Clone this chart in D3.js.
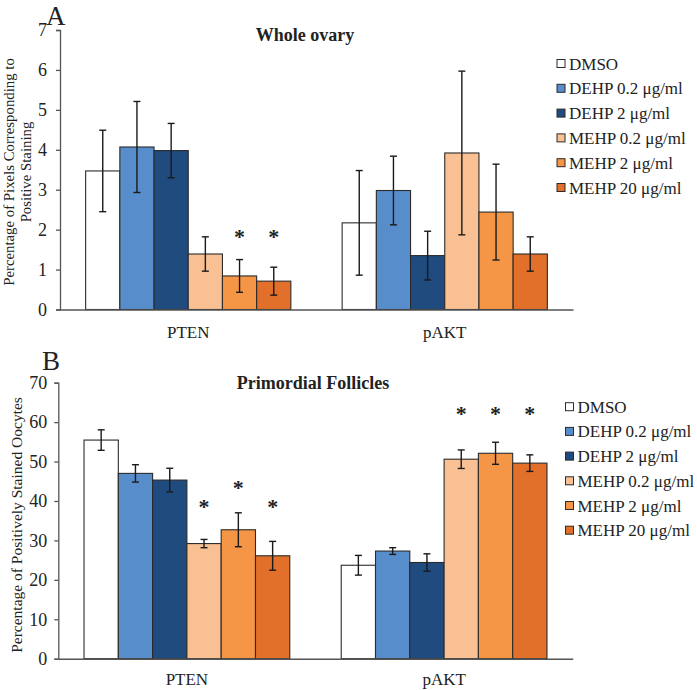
<!DOCTYPE html>
<html>
<head>
<meta charset="utf-8">
<script src="https://cdn.jsdelivr.net/npm/d3@7"></script>
<style>
  body { margin: 0; background: #fff; }
  svg text { font-family: "Liberation Serif", "Times New Roman", serif; fill: #222; }
</style>
</head>
<body>
<div id="wrapper"></div>
<script>
// categories / series
const groups = ["PTEN", "pAKT"]
const series = ["DMSO", "DEHP 0.2 μg/ml", "DEHP 2 μg/ml", "MEHP 0.2 μg/ml", "MEHP 2 μg/ml", "MEHP 20 μg/ml"]
const colors = ["#ffffff", "#588dcc", "#1f4b7f", "#f9c193", "#f59647", "#e2702a"]

// panel A: whole ovary (mean, error)
const aMeanPTEN = [3.47, 4.07, 3.98, 1.39, 0.84, 0.71]
const aErrPTEN  = [1.02, 1.14, 0.68, 0.43, 0.41, 0.35]
const aMeanPAKT = [2.17, 2.98, 1.35, 3.92, 2.44, 1.39]
const aErrPAKT  = [1.31, 0.86, 0.61, 2.05, 1.20, 0.43]
const aStarPTEN = [null, null, null, null, 1.91, 1.91]
const aStarPAKT = [null, null, null, null, null, null]
const aTicks = [0, 1, 2, 3, 4, 5, 6, 7]

// panel B: primordial follicles
const bMeanPTEN = [55.45, 47.0, 45.3, 29.2, 32.7, 26.1]
const bErrPTEN  = [2.6, 2.2, 3.0, 1.05, 4.3, 3.65]
const bMeanPAKT = [23.7, 27.3, 24.4, 50.6, 52.1, 49.6]
const bErrPAKT  = [2.5, 0.85, 2.2, 2.35, 2.8, 2.1]
const bStarPTEN = [null, null, null, 39.6, 44.3, 39.6]
const bStarPAKT = [null, null, null, 63.1, 63.1, 63.1]
const bTicks = [0, 10, 20, 30, 40, 50, 60, 70]

const svg = d3.select("#wrapper")
  .append("svg")
    .attr("width", 697)
    .attr("height", 690)

function drawPanel(p) {
  const rows = []
  groups.forEach((g, gi) => {
    series.forEach((s, si) => {
      rows.push({
        group: g, series: s, i: si,
        mean: p.means[gi][si],
        err: p.errs[gi][si],
        star: p.stars[gi][si],
      })
    })
  })

  const xScale = d3.scaleBand()
    .domain(groups)
    .range([p.left, p.right])
    .paddingInner(0.2)
    .paddingOuter(0.1)

  const innerScale = d3.scaleBand()
    .domain(series)
    .range([0, xScale.bandwidth()])

  const yScale = d3.scaleLinear()
    .domain([0, d3.max(p.ticks)])
    .range([p.bottom, p.top])

  const g = svg.append("g")

  // bars
  g.selectAll("rect.bar")
    .data(rows)
    .enter().append("rect")
      .attr("class", "bar")
      .attr("x", d => xScale(d.group) + innerScale(d.series))
      .attr("y", d => yScale(d.mean))
      .attr("width", innerScale.bandwidth())
      .attr("height", d => yScale(0) - yScale(d.mean))
      .attr("fill", d => colors[d.i])
      .attr("stroke", "#2b2b2b")
      .attr("stroke-width", 1.1)

  // error bars
  const cx = d => xScale(d.group) + innerScale(d.series) + innerScale.bandwidth() / 2
  const eb = g.selectAll("g.err")
    .data(rows)
    .enter().append("g")
      .attr("class", "err")
      .attr("stroke", "#1a1a1a")
      .attr("stroke-width", 1.4)
  eb.append("line")
    .attr("x1", cx).attr("x2", cx)
    .attr("y1", d => yScale(d.mean + d.err))
    .attr("y2", d => yScale(d.mean - d.err))
  eb.append("line")
    .attr("x1", d => cx(d) - 3.5).attr("x2", d => cx(d) + 3.5)
    .attr("y1", d => yScale(d.mean + d.err))
    .attr("y2", d => yScale(d.mean + d.err))
  eb.append("line")
    .attr("x1", d => cx(d) - 3.5).attr("x2", d => cx(d) + 3.5)
    .attr("y1", d => yScale(d.mean - d.err))
    .attr("y2", d => yScale(d.mean - d.err))

  // significance stars
  g.selectAll("text.star")
    .data(rows.filter(d => d.star != null))
    .enter().append("text")
      .attr("class", "star")
      .attr("x", cx)
      .attr("y", d => yScale(d.star) + 11)
      .attr("text-anchor", "middle")
      .style("font-size", "22px")
      .style("font-weight", "bold")
      .text("*")

  // y axis
  const yAxis = g.append("g")
    .attr("transform", `translate(${p.left},0)`)
    .call(d3.axisLeft(yScale)
      .tickValues(p.ticks)
      .tickFormat(d3.format("d"))
      .tickSize(4)
      .tickPadding(p.tickPad))
  yAxis.select(".domain").attr("stroke", "#555").attr("stroke-width", 1.3)
  yAxis.selectAll(".tick line").attr("stroke", "#555").attr("stroke-width", 1.3)
  yAxis.selectAll(".tick text")
    .style("font-size", "18px")
    .style("font-family", "'Liberation Serif', 'Times New Roman', serif")
    .attr("fill", "#222")

  // x axis
  const xAxis = g.append("g")
    .attr("transform", `translate(0,${p.bottom})`)
    .call(d3.axisBottom(xScale).tickSize(0).tickPadding(p.catPad))
  xAxis.select(".domain").attr("stroke", "#555").attr("stroke-width", 1.5)
  xAxis.selectAll(".tick text")
    .style("font-size", "17px")
    .style("font-family", "'Liberation Serif', 'Times New Roman', serif")
    .attr("fill", "#222")

  // panel letter & title
  g.append("text")
    .attr("x", p.letterX).attr("y", p.letterY)
    .style("font-size", "27px")
    .text(p.letter)
  g.append("text")
    .attr("x", p.titleX).attr("y", p.titleY)
    .attr("text-anchor", "middle")
    .style("font-size", "18px")
    .style("font-weight", "bold")
    .text(p.title)

  // y label
  p.yLabel.forEach((line, li) => {
    g.append("text")
      .attr("transform", `translate(${p.yLabelX[li]},${p.yLabelY}) rotate(-90)`)
      .attr("text-anchor", "middle")
      .style("font-size", `${p.yLabelSize}px`)
      .text(line)
  })

  // legend
  const legend = g.append("g")
  series.forEach((s, i) => {
    const y = p.legendY + i * p.legendStep
    legend.append("rect")
      .attr("x", p.legendX).attr("y", y - 4)
      .attr("width", 8).attr("height", 8)
      .attr("fill", colors[i])
      .attr("stroke", "#2b2b2b")
      .attr("stroke-width", 1)
    legend.append("text")
      .attr("x", p.legendX + 12).attr("y", y + 6)
      .style("font-size", "17px")
      .text(s)
  })
}

drawPanel({
  means: [aMeanPTEN, aMeanPAKT],
  errs: [aErrPTEN, aErrPAKT],
  stars: [aStarPTEN, aStarPAKT],
  ticks: aTicks,
  left: 60, right: 573, top: 30, bottom: 309.5,
  tickPad: 9, catPad: 16,
  letter: "A", letterX: 46, letterY: 24.5,
  title: "Whole ovary", titleX: 305, titleY: 41,
  yLabel: ["Percentage of Pixels Corresponding to", "Positive Staining"],
  yLabelX: [14, 31], yLabelY: 172, yLabelSize: 14.8,
  legendX: 557, legendY: 63.5, legendStep: 24.8,
})

drawPanel({
  means: [bMeanPTEN, bMeanPAKT],
  errs: [bErrPTEN, bErrPAKT],
  stars: [bStarPTEN, bStarPAKT],
  ticks: bTicks,
  left: 58.3, right: 572.7, top: 382.7, bottom: 658.7,
  tickPad: 7, catPad: 14,
  letter: "B", letterX: 42, letterY: 370,
  title: "Primordial Follicles", titleX: 313, titleY: 389,
  yLabel: ["Percentage of Positively Stained Oocytes"],
  yLabelX: [22], yLabelY: 525, yLabelSize: 15.5,
  legendX: 565.5, legendY: 406.7, legendStep: 24.7,
})
</script>
</body>
</html>
